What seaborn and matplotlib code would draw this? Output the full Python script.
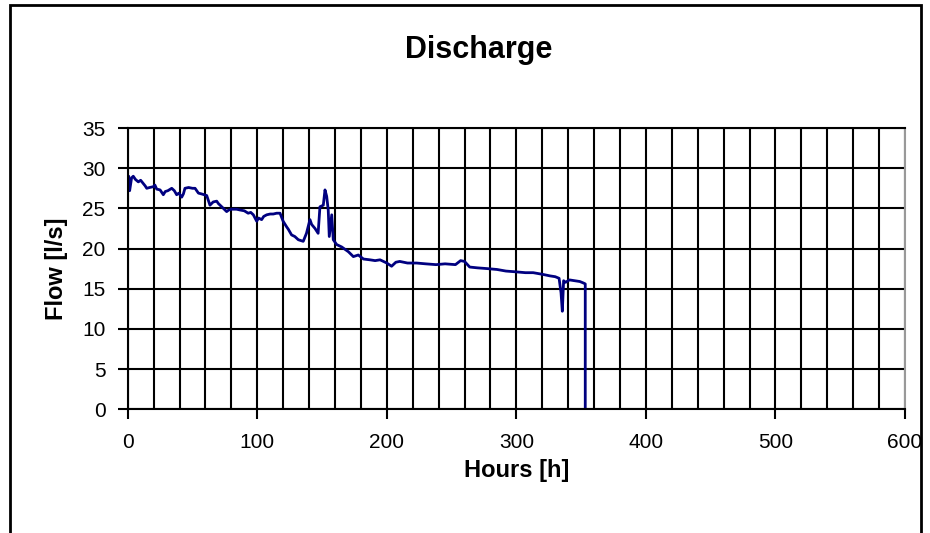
import matplotlib
matplotlib.use("Agg")
import matplotlib.pyplot as plt
import seaborn as sns
import pandas as pd
from matplotlib.patches import Rectangle
from matplotlib.ticker import MultipleLocator

hours = [0, 0.8, 1.5, 3, 4.3, 6, 8.2, 10, 12, 13.5, 14.7, 17, 19.8, 21, 22.4,
         25, 27.5, 29, 31, 34, 36, 37.8, 39.5, 41.7, 43, 44.2, 47, 50, 52,
         54.6, 57, 61, 63.5, 66, 68.7, 70, 72.6, 76.4, 78, 80.3, 84, 86.7, 90,
         93, 95, 97, 99.6, 101, 103.4, 105, 107.3, 110, 112.4, 115, 117.6, 120,
         122.7, 124, 126.5, 129, 131.7, 135.5, 138, 140.7, 142, 144.6, 147,
         148.4, 151, 152.3, 153.6, 154.8, 155.6, 157.5, 158.7, 161.3, 165.2,
         170.4, 174.2, 178, 182, 187, 191, 194.8, 200, 203.7, 207, 210, 216,
         223, 230, 238, 245, 253, 257, 260, 264, 270, 278, 285, 292, 300, 307,
         313, 320, 326, 330, 333, 334.5, 335.5, 336.5, 338, 341, 345, 349, 352,
         353.2, 353.2]
flow = [28.0, 29.0, 27.2, 28.8, 29.0, 28.6, 28.3, 28.5, 28.1, 27.8, 27.5, 27.6,
        27.7, 27.9, 27.4, 27.3, 26.7, 27.1, 27.2, 27.5, 27.2, 26.7, 26.9, 26.4,
        26.8, 27.5, 27.6, 27.5, 27.5, 26.9, 26.8, 26.6, 25.4, 25.8, 25.9, 25.6,
        25.2, 24.6, 24.8, 24.9, 24.9, 24.8, 24.7, 24.4, 24.5, 24.2, 23.4, 23.8,
        23.6, 24.0, 24.2, 24.3, 24.3, 24.4, 24.4, 23.4, 22.7, 22.4, 21.7, 21.5,
        21.1, 20.9, 21.9, 23.6, 23.0, 22.5, 21.9, 25.2, 25.4, 27.3, 26.5, 24.8,
        21.5, 24.2, 21.1, 20.5, 20.2, 19.6, 19.0, 19.2, 18.7, 18.6, 18.5, 18.6,
        18.2, 17.8, 18.3, 18.4, 18.2, 18.2, 18.1, 18.0, 18.1, 18.0, 18.5, 18.4,
        17.7, 17.6, 17.5, 17.4, 17.2, 17.1, 17.0, 17.0, 16.8, 16.6, 16.5, 16.3,
        14.5, 12.2, 16.0, 15.8, 16.1, 16.0, 15.9, 15.7, 15.6, 0.0]

df = pd.DataFrame({"Hours": hours, "Flow": flow})

sns.set_theme(style="white")
plt.rcParams["font.family"] = ["Liberation Sans", "DejaVu Sans"]
plt.rcParams["text.color"] = "black"
plt.rcParams["axes.labelcolor"] = "black"
plt.rcParams["xtick.color"] = "black"
plt.rcParams["ytick.color"] = "black"

fig = plt.figure(figsize=(9.3, 5.33), dpi=100)
ax = fig.add_axes([0.1373, 0.2321, 0.8358, 0.5277])

sns.lineplot(data=df, x="Hours", y="Flow", ax=ax, color="#000080",
             linewidth=2.0, estimator=None, sort=False)

ax.set_xlim(0, 600)
ax.set_ylim(0, 35)
ax.xaxis.set_major_locator(MultipleLocator(100))
ax.xaxis.set_minor_locator(MultipleLocator(20))
ax.yaxis.set_major_locator(MultipleLocator(5))
ax.grid(True, which="both", axis="x", color="black", linewidth=1.5)
ax.grid(True, which="major", axis="y", color="black", linewidth=1.5)
ax.set_axisbelow(True)

ax.tick_params(axis="both", which="major", direction="out", length=7,
               width=1.5, color="black", labelsize=15, pad=9,
               bottom=True, left=True)
ax.tick_params(axis="x", which="major", pad=10)
ax.tick_params(which="minor", length=0)

for side in ["left", "bottom", "top"]:
    ax.spines[side].set_color("black")
    ax.spines[side].set_linewidth(1.5)
ax.spines["right"].set_color("#999999")
ax.spines["right"].set_linewidth(1.5)

ax.set_xlabel("Hours [h]", fontsize=17, fontweight="bold", labelpad=5)
ax.set_ylabel("Flow [l/s]", fontsize=17, fontweight="bold", labelpad=10)

fig.text(0.515, 0.906, "Discharge", fontsize=22, fontweight="bold",
         ha="center", va="center")

# chart area border
fig.patches.append(Rectangle((10 / 930, -0.02), 911 / 930, 1.02 - 5 / 533,
                             transform=fig.transFigure, fill=False,
                             edgecolor="black", linewidth=2))

fig.savefig("out.png", dpi=100)
